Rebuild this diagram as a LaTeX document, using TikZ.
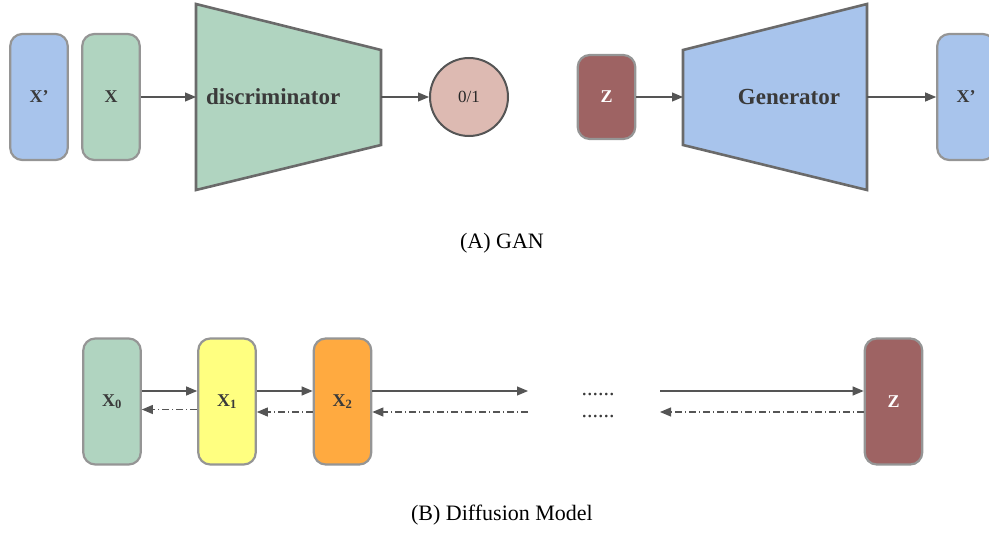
\documentclass[tikz,border=0pt]{standalone}
\usepackage{fontspec}
\setmainfont{Liberation Serif}[BoldFont={Liberation Serif Bold}, ItalicFont={Liberation Serif Italic}]
\usetikzlibrary{arrows.meta}
\definecolor{bluef}{HTML}{A8C4EC}
\definecolor{greenf}{HTML}{B0D4C0}
\definecolor{zred}{HTML}{9E6363}
\definecolor{circf}{HTML}{DDBAB2}
\definecolor{yelf}{HTML}{FFFF80}
\definecolor{oranf}{HTML}{FFAA40}
\definecolor{boxgray}{HTML}{959595}
\definecolor{trapgray}{HTML}{6A6A6A}
\definecolor{arrc}{HTML}{555555}
\definecolor{txt}{HTML}{3A3A3A}
\begin{document}
\begin{tikzpicture}[x=1pt,y=-1pt,
  blk/.style={draw=boxgray, line width=2.2pt, rounded corners=12pt, minimum width=57.5pt, minimum height=126pt, inner sep=0pt, font=\fontsize{18}{20}\selectfont\bfseries, text=txt},
  arr/.style={-{Triangle[length=11pt,width=9pt]}, draw=arrc, line width=1.1pt},
  back/.style={arr, dash pattern=on 7pt off 3pt on 1pt off 3pt},
  trap/.style={draw=trapgray, line width=2.6pt, line join=miter},
  captxt/.style={font=\fontsize{22}{26}\selectfont, text=black}]
\useasboundingbox (0,0) rectangle (989,535);

% ---------- (A) GAN ----------
\node[blk, fill=bluef] (xpl) at (39,97) {X’};
\node[blk, fill=greenf] (x) at (111,97) {X};
\draw[trap, fill=greenf] (196,4) -- (381,50) -- (381,145) -- (196,190) -- cycle;
\coordinate (dL) at (196,97);
\coordinate (dR) at (381,97);
\node[anchor=west, font=\fontsize{23}{26}\selectfont\bfseries, text=txt, inner sep=0pt] (dlab) at (206,97) {discriminator};
\node[circle, draw=arrc, line width=2pt, fill=circf, minimum size=78pt, inner sep=0pt, font=\fontsize{17}{20}\selectfont, text=black!85] (out) at (469,97) {0/1};
\draw[arr] (x.east) -- (dL);
\draw[arr] (dR) -- (out.west);

\node[blk, fill=zred, text=white, minimum height=84pt] (zt) at (606.5,97) {Z};
\draw[trap, fill=bluef] (683,50) -- (867,4) -- (867,190) -- (683,145) -- cycle;
\coordinate (gL) at (683,97);
\coordinate (gR) at (867,97);
\node[font=\fontsize{23}{26}\selectfont\bfseries, text=txt, inner sep=0pt] (glab) at (789,97) {Generator};
\node[blk, fill=bluef] (xpr) at (966,97) {X’};
\draw[arr] (zt.east) -- (gL);
\draw[arr] (gR) -- (xpr.west);

\node[captxt] (capa) at (502,243) {(A) GAN};

% ---------- (B) Diffusion ----------
\node[blk, fill=greenf] (x0) at (112,401.5) {X\textsubscript{0}};
\node[blk, fill=yelf] (x1) at (227,401.5) {X\textsubscript{1}};
\node[blk, fill=oranf] (x2) at (342.5,401.5) {X\textsubscript{2}};
\node[blk, fill=zred, text=white] (zb) at (893.5,401.5) {Z};

\coordinate (f1) at (528,391);
\coordinate (f2) at (660,391);
\coordinate (b1) at (528,412);
\coordinate (b2) at (660,412);

\draw[arr] ([yshift=10.5pt]x0.east) -- ([yshift=10.5pt]x1.west);
\draw[arr] ([yshift=10.5pt]x1.east) -- ([yshift=10.5pt]x2.west);
\draw[arr] ([yshift=10.5pt]x2.east) -- (f1);
\draw[arr] (f2) -- ([yshift=10.5pt]zb.west);

\draw[back] ([yshift=-8pt]x1.west) -- ([yshift=-8pt]x0.east);
\draw[back] ([yshift=-10.5pt]x2.west) -- ([yshift=-10.5pt]x1.east);
\draw[back] (b1) -- ([yshift=-10.5pt]x2.east);
\draw[back] ([yshift=-10.5pt]zb.west) -- (b2);

\node[anchor=base, font=\fontsize{22}{26}\selectfont, text=txt, inner sep=0pt] (dots1) at (598,395) {......};
\node[anchor=base, font=\fontsize{22}{26}\selectfont, text=txt, inner sep=0pt] (dots2) at (598,417) {......};

\node[captxt] (capb) at (502,515) {(B) Diffusion Model};
\end{tikzpicture}
\end{document}
